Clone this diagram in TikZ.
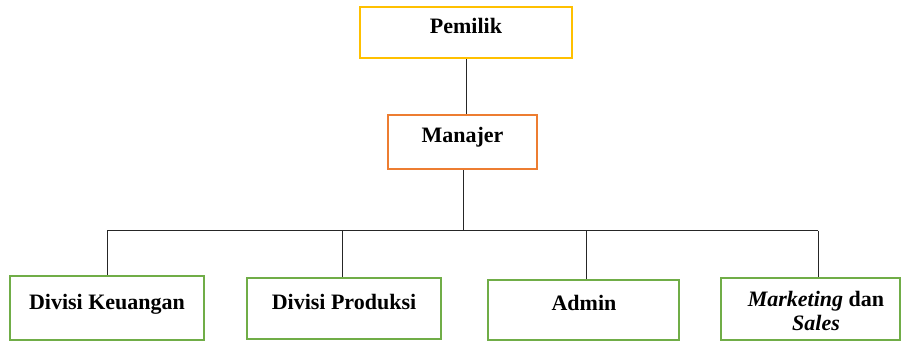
\documentclass[tikz,border=0pt]{standalone}
\usepackage{fontspec}
\setmainfont{Liberation Serif}
\definecolor{cyel}{HTML}{FFC000}
\definecolor{corg}{HTML}{ED7D31}
\definecolor{cgrn}{HTML}{70AD47}
\begin{document}
\begin{tikzpicture}[x=1pt,y=1pt,
  box/.style={draw, line width=2pt, rectangle, inner sep=0pt},
  lbl/.style={font=\rmfamily\bfseries\fontsize{22}{24}\selectfont, inner sep=0pt, align=center},
  conn/.style={draw=black!85, line width=1pt}]
\useasboundingbox (0,0) rectangle (902,341);
\fill[white] (0,0) rectangle (902,341);
% boxes
\node[box, draw=cyel, minimum width=212, minimum height=51] (pem) at (466,308.5) {};
\node[box, draw=corg, minimum width=149, minimum height=54] (man) at (462.5,199) {};
\node[box, draw=cgrn, minimum width=194, minimum height=64] (keu) at (107,33) {};
\node[box, draw=cgrn, minimum width=194, minimum height=61] (pro) at (344,32.5) {};
\node[box, draw=cgrn, minimum width=191, minimum height=60] (adm) at (583.5,31) {};
\node[box, draw=cgrn, minimum width=179, minimum height=62] (mar) at (810.5,32) {};
% labels
\node[lbl, anchor=base] (pemt) at (466,308) {Pemilik};
\node[lbl, anchor=base] (mant) at (462.5,199) {Manajer};
\node[lbl, anchor=base] (keut) at (107,32) {Divisi Keuangan};
\node[lbl, anchor=base] (prot) at (344,32) {Divisi Produksi};
\node[lbl, anchor=base] (admt) at (584,31) {Admin};
\node[lbl, anchor=center] (mart) at (816,30) {\textit{Marketing} dan\\\textit{Sales}};
% connectors
\coordinate (b1) at (107,110.5);
\coordinate (b2) at (342,110.5);
\coordinate (b3) at (586,110.5);
\coordinate (b4) at (818,110.5);
\coordinate (bm) at (463,110.5);
\draw[conn] (pem.south) -- (pem.south |- man.north);
\draw[conn] (man.south -| bm) -- (bm);
\draw[conn] (b1) -- (b4);
\draw[conn] (b1) -- (b1 |- keu.north);
\draw[conn] (b2) -- (b2 |- pro.north);
\draw[conn] (b3) -- (b3 |- adm.north);
\draw[conn] (b4) -- (b4 |- mar.north);
\end{tikzpicture}
\end{document}
